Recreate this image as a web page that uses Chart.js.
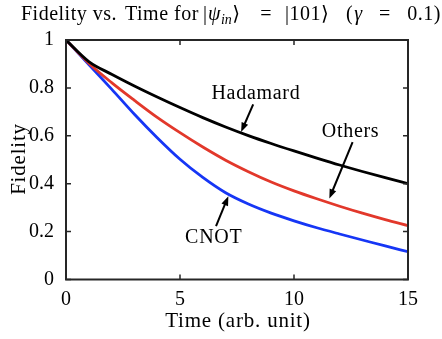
<!DOCTYPE html>
<html>
<head>
<meta charset="utf-8">
<script src="https://cdn.jsdelivr.net/npm/chart.js@4"></script>
<style>
  html, body { margin: 0; padding: 0; background: #fff; }
  #wrap { width: 442px; height: 339px; }
</style>
</head>
<body>
<div id="wrap"><canvas id="fidChart"></canvas></div>
<script>
// data
const times    = [0, 1, 2, 3, 4, 5, 6, 7, 8, 9, 10, 11, 12, 13, 14, 15];
const hadamard = [1, 0.91, 0.857, 0.808, 0.762, 0.718, 0.676, 0.637, 0.601, 0.568, 0.537, 0.507, 0.478, 0.451, 0.425, 0.40];
const others   = [1, 0.903, 0.822, 0.748, 0.677, 0.613, 0.553, 0.498, 0.45, 0.407, 0.37, 0.337, 0.306, 0.277, 0.25, 0.225];
const cnot     = [1, 0.898, 0.795, 0.69, 0.592, 0.502, 0.426, 0.362, 0.315, 0.277, 0.245, 0.216, 0.19, 0.165, 0.14, 0.116];
const xTicks   = [0, 5, 10, 15];
const yTicks   = [0, 0.2, 0.4, 0.6, 0.8, 1];

// text labels + arrows, in data units: [text, textX, textY, fromX, fromY, toX, toY]
const notes = [
    ['Hadamard', 8.33, 0.775, 8.21, 0.731, 7.68, 0.616],
    ['Others', 12.48, 0.617, 12.57, 0.574, 11.55, 0.338],
    ['CNOT', 6.48, 0.173, 6.58, 0.223, 7.12, 0.348]
];

const SERIF = '"Liberation Serif", "DejaVu Serif", serif';
const INK = '#262626';

const pts = arr => arr.map((v, i) => ({ x: times[i], y: v }));

// box with inward ticks on all four sides
const boxPlugin = {
    id: 'box',
    afterDatasetsDraw(chart) {
        const { ctx, chartArea: a, scales: { x, y } } = chart;
        ctx.save();
        ctx.strokeStyle = INK;
        ctx.lineWidth = 2;
        ctx.strokeRect(a.left, a.top, a.right - a.left, a.bottom - a.top);
        ctx.lineWidth = 1.5;
        ctx.beginPath();
        xTicks.forEach(t => {
            const px = x.getPixelForValue(t);
            ctx.moveTo(px, a.bottom); ctx.lineTo(px, a.bottom - 5);
            ctx.moveTo(px, a.top); ctx.lineTo(px, a.top + 5);
        });
        yTicks.forEach(t => {
            const py = y.getPixelForValue(t);
            ctx.moveTo(a.left, py); ctx.lineTo(a.left + 5, py);
            ctx.moveTo(a.right, py); ctx.lineTo(a.right - 5, py);
        });
        ctx.stroke();
        ctx.restore();
    }
};

// annotations
const notePlugin = {
    id: 'notes',
    afterDatasetsDraw(chart) {
        const { ctx, scales: { x, y } } = chart;
        ctx.save();
        ctx.font = '20px ' + SERIF;
        ctx.letterSpacing = '0.7px';
        ctx.fillStyle = '#000';
        ctx.strokeStyle = '#000';
        ctx.textAlign = 'center';
        ctx.textBaseline = 'middle';
        notes.forEach(n => {
            ctx.fillText(n[0], x.getPixelForValue(n[1]), y.getPixelForValue(n[2]));
            const x1 = x.getPixelForValue(n[3]), y1 = y.getPixelForValue(n[4]);
            const x2 = x.getPixelForValue(n[5]), y2 = y.getPixelForValue(n[6]);
            const ang = Math.atan2(y2 - y1, x2 - x1);
            ctx.lineWidth = 2;
            ctx.beginPath();
            ctx.moveTo(x1, y1);
            ctx.lineTo(x2 - 6 * Math.cos(ang), y2 - 6 * Math.sin(ang));
            ctx.stroke();
            ctx.beginPath();
            ctx.moveTo(x2, y2);
            ctx.lineTo(x2 - 10 * Math.cos(ang - 0.36), y2 - 10 * Math.sin(ang - 0.36));
            ctx.lineTo(x2 - 10 * Math.cos(ang + 0.36), y2 - 10 * Math.sin(ang + 0.36));
            ctx.closePath();
            ctx.fill();
        });
        ctx.restore();
    }
};

// title (TeX-like spacing) and axis titles
const textPlugin = {
    id: 'texts',
    afterDraw(chart) {
        const { ctx } = chart;
        const base = 19.5;
        const put = (txt, x, opts = {}) => {
            ctx.font = (opts.it ? 'italic ' : '') + (opts.sub ? 14 : 20) + 'px ' + SERIF;
            ctx.textAlign = opts.align || 'left';
            ctx.fillText(txt, x, base + (opts.sub ? 4 : 0));
            return x + ctx.measureText(txt).width;
        };
        ctx.save();
        ctx.fillStyle = '#000';
        ctx.textBaseline = 'alphabetic';
        ctx.letterSpacing = '0.5px';
        put('Fidelity vs.', 21);
        put('Time for', 125);
        ctx.letterSpacing = '0px';
        let cx = put('|', 203);
        cx = put('ψ', cx + 1, { it: 1 });
        cx = put('in', cx + 0.5, { it: 1, sub: 1 });
        put('⟩', cx + 0.5);
        put('=', 266, { align: 'center' });
        ctx.letterSpacing = '0.5px';
        put('|101⟩', 285);
        cx = put('(', 346);
        put('γ', cx + 1, { it: 1 });
        put('=', 385, { align: 'center' });
        put('0.1)', 441, { align: 'right' });

        ctx.textAlign = 'center';
        ctx.font = '21px ' + SERIF;
        ctx.letterSpacing = '0.8px';
        ctx.fillText('Time (arb. unit)', 238, 327);
        ctx.translate(24.5, 159);
        ctx.rotate(-Math.PI / 2);
        ctx.fillText('Fidelity', 0, 0);
        ctx.restore();
    }
};

new Chart(document.getElementById('fidChart'), {
    type: 'line',
    data: {
        datasets: [
            { label: 'Hadamard', data: pts(hadamard), borderColor: '#000000', borderWidth: 2.8 },
            { label: 'Others', data: pts(others), borderColor: '#e2382b', borderWidth: 2.8 },
            { label: 'CNOT', data: pts(cnot), borderColor: '#1636f5', borderWidth: 2.8 }
        ]
    },
    options: {
        responsive: true,
        maintainAspectRatio: false,
        animation: false,
        elements: {
            point: { radius: 0 },
            line: { cubicInterpolationMode: 'monotone', fill: false }
        },
        layout: { padding: { top: 40, right: 34, left: 0, bottom: 0 } },
        plugins: {
            legend: { display: false },
            tooltip: { enabled: false }
        },
        scales: {
            x: {
                type: 'linear',
                min: 0,
                max: 15,
                afterBuildTicks: s => { s.ticks = xTicks.map(v => ({ value: v })); },
                afterFit: s => { s.height = 59.5; },
                grid: { display: false },
                border: { display: false },
                ticks: {
                    color: '#000',
                    font: { family: SERIF, size: 20 },
                    padding: 0,
                    maxRotation: 0,
                    callback: v => String(v)
                }
            },
            y: {
                min: 0,
                max: 1,
                afterBuildTicks: s => { s.ticks = yTicks.map(v => ({ value: v })); },
                afterFit: s => { s.width = 66; },
                grid: { display: false },
                border: { display: false },
                ticks: {
                    color: '#000',
                    font: { family: SERIF, size: 20 },
                    padding: 4,
                    callback: v => String(Math.round(v * 10) / 10)
                }
            }
        }
    },
    plugins: [boxPlugin, notePlugin, textPlugin]
});
</script>
</body>
</html>
